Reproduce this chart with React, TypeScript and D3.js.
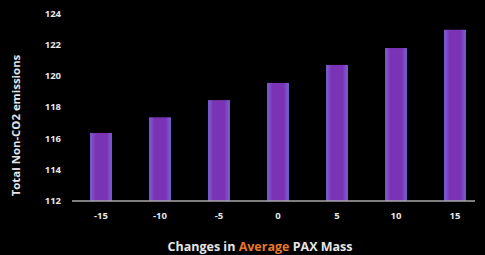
import * as d3 from 'd3';
import React, { useEffect, useRef } from 'react';

const categories = ['-15', '-10', '-5', '0', '5', '10', '15'];
const emissions = [116.35, 117.35, 118.45, 119.55, 120.7, 121.78, 122.95];
const yTicks = [112, 114, 116, 118, 120, 122, 124];

function App() {
    const ref = useRef<SVGSVGElement>(null);

    useEffect(() => {
        const svg = d3.select(ref.current);
        svg.selectAll('*').remove();

        const width = 485;
        const height = 255;
        const font = "'Open Sans', 'Liberation Sans', sans-serif";

        svg.append('rect')
            .attr('width', width)
            .attr('height', height)
            .attr('fill', '#000');

        const defs = svg.append('defs');
        const grad = defs.append('linearGradient')
            .attr('id', 'barGrad')
            .attr('x1', '0').attr('x2', '1').attr('y1', '0').attr('y2', '0');
        grad.append('stop').attr('offset', '0%').attr('stop-color', '#7d62d6');
        grad.append('stop').attr('offset', '25%').attr('stop-color', '#7a33b4');
        grad.append('stop').attr('offset', '75%').attr('stop-color', '#7a33b4');
        grad.append('stop').attr('offset', '100%').attr('stop-color', '#7d62d6');

        const x = d3.scaleBand()
            .domain(categories)
            .range([71.5, 484.5])
            .paddingInner(0.63)
            .paddingOuter(0.315);

        const y = d3.scaleLinear()
            .domain([112, 124])
            .range([201, 13.3]);

        // bars
        svg.append('g')
            .selectAll('rect')
            .data(emissions)
            .join('rect')
            .attr('x', (d, i) => x(categories[i]) as number)
            .attr('y', d => y(d))
            .attr('width', x.bandwidth())
            .attr('height', d => y(112) - y(d))
            .attr('fill', 'url(#barGrad)');

        // baseline
        svg.append('line')
            .attr('x1', 72)
            .attr('x2', 475)
            .attr('y1', y(112))
            .attr('y2', y(112))
            .attr('stroke', '#a8a8a8')
            .attr('stroke-width', 1.5);

        // y tick labels
        svg.append('g')
            .selectAll('text')
            .data(yTicks)
            .join('text')
            .attr('x', 61)
            .attr('y', d => y(d))
            .attr('dy', '0.35em')
            .attr('text-anchor', 'end')
            .attr('fill', '#e6e6e6')
            .attr('font-family', font)
            .attr('font-weight', 'bold')
            .attr('font-size', 9.5)
            .text(d => d);

        // x tick labels
        svg.append('g')
            .selectAll('text')
            .data(categories)
            .join('text')
            .attr('x', d => (x(d) as number) + x.bandwidth() / 2)
            .attr('y', 216)
            .attr('dy', '0.35em')
            .attr('text-anchor', 'middle')
            .attr('fill', '#e6e6e6')
            .attr('font-family', font)
            .attr('font-weight', 'bold')
            .attr('font-size', 9.5)
            .text(d => d);

        // y axis title
        svg.append('text')
            .attr('transform', 'translate(16,125.5) rotate(-90)')
            .attr('dy', '0.35em')
            .attr('text-anchor', 'middle')
            .attr('fill', '#e6e6e6')
            .attr('font-family', font)
            .attr('font-weight', 'bold')
            .attr('font-size', 11.4)
            .text('Total Non-CO2 emissions');

        // x axis title
        const title = svg.append('text')
            .attr('x', 260)
            .attr('y', 246.5)
            .attr('dy', '0.35em')
            .attr('text-anchor', 'middle')
            .attr('fill', '#e6e6e6')
            .attr('font-family', font)
            .attr('font-weight', 'bold')
            .attr('font-size', 12.5);
        title.append('tspan').text('Changes in ');
        title.append('tspan').attr('fill', '#e8782a').text('Average');
        title.append('tspan').text(' PAX Mass');
    }, []);

    return (
        <svg
            ref={ref}
            width={485}
            height={255}
            style={{ position: 'absolute', left: 0, top: 0, display: 'block' }}
        ></svg>
    );
}

export default App;
